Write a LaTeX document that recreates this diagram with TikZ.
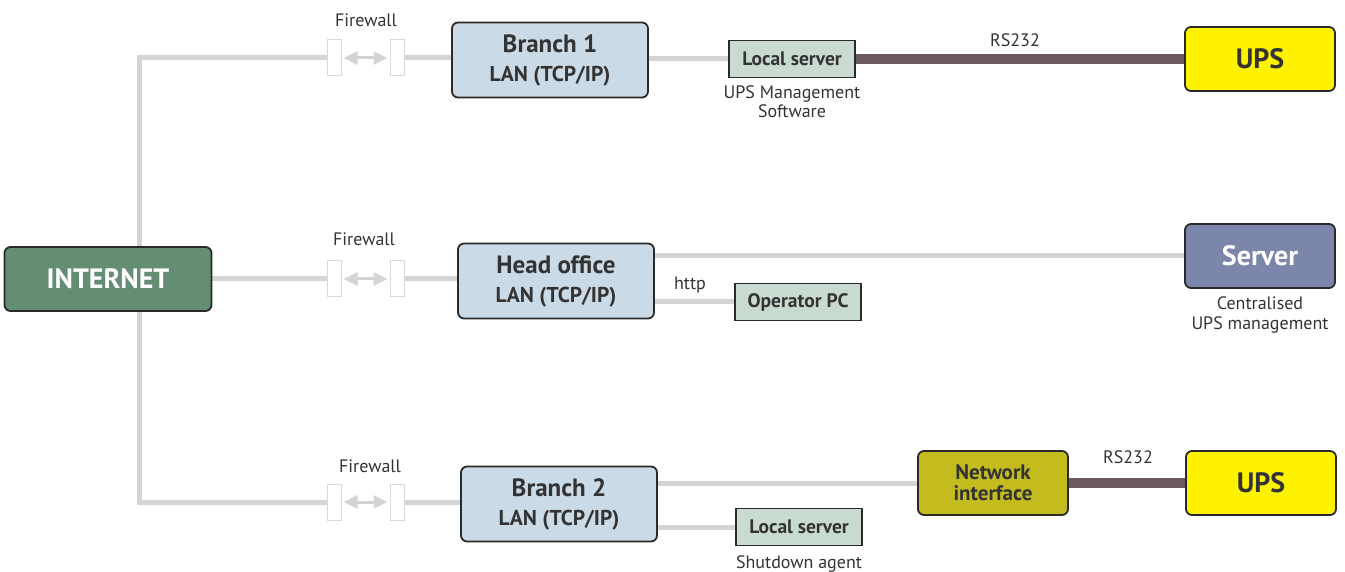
\documentclass[tikz,border=0pt]{standalone}
\usepackage{fontspec}
\setmainfont{PT Sans}
\usetikzlibrary{positioning,arrows.meta,backgrounds}

\definecolor{lanline}{HTML}{D4D4D4}
\definecolor{rsline}{HTML}{6B5B60}
\definecolor{boxline}{HTML}{2A2A2A}
\definecolor{inetfill}{HTML}{638E73}
\definecolor{branchfill}{HTML}{CADBE7}
\definecolor{srvfill}{HTML}{C9DBD0}
\definecolor{upsfill}{HTML}{FFF200}
\definecolor{serverfill}{HTML}{7C86AA}
\definecolor{netiffill}{HTML}{C4BB1E}
\definecolor{txtgray}{HTML}{333333}

\tikzset{
    box/.style={draw=boxline, line width=1.8pt, rounded corners=6pt, align=center,
        inner sep=0pt, text=txtgray},
    inet/.style={box, fill=inetfill, text=white, minimum width=207pt, minimum height=64pt,
        font=\fontsize{28}{30}\selectfont\bfseries},
    lan/.style={box, fill=branchfill, minimum width=196pt, minimum height=75pt,
        font=\fontsize{21.5}{29}\selectfont\bfseries},
    bigbox/.style={box, minimum width=150pt, minimum height=64pt,
        font=\fontsize{28}{30}\selectfont\bfseries},
    pcbox/.style={draw=boxline, line width=1.5pt, fill=srvfill, text=txtgray,
        minimum width=126pt, minimum height=37pt, inner sep=0pt,
        font=\fontsize{19.5}{21}\selectfont\bfseries},
    fwall/.style={draw=gray!30, fill=white, line width=1pt, minimum width=14pt,
        minimum height=36pt, inner sep=0pt},
    fwarrow/.style={draw=lanline, line width=3pt,
        {Triangle[length=14pt,width=13pt]}-{Triangle[length=14pt,width=13pt]}, shorten <=2pt, shorten >=2pt},
    wire/.style={draw=lanline, line width=5pt},
    rswire/.style={draw=rsline, line width=10pt},
    lbl/.style={text=txtgray, inner sep=0pt, align=center, font=\fontsize{18}{19.5}\selectfont}
}

\begin{document}
\begin{tikzpicture}[x=1pt,y=-1pt]
    \useasboundingbox (0,0) rectangle (1345,572);
    % Internet and corners of the trunk
    \node[inet] (internet) at (108,279) {INTERNET};
    \coordinate (ctop) at (139,58);
    \coordinate (cbot) at (139,502);
    % Firewalls
    \node[fwall] (fw1l) at (334,58) {};
    \node[fwall] (fw1r) at (397,58) {};
    \node[fwall] (fw2l) at (334,279) {};
    \node[fwall] (fw2r) at (397,279) {};
    \node[fwall] (fw3l) at (334,502) {};
    \node[fwall] (fw3r) at (397,502) {};
    \node[lbl] (fw1lbl) at (366,20) {Firewall};
    \node[lbl] (fw2lbl) at (364,239) {Firewall};
    \node[lbl] (fw3lbl) at (370,466) {Firewall};
    % Branch 1
    \node[lan] (branch1) at (550,60) {{\fontsize{25}{29}\selectfont Branch 1}\\LAN (TCP/IP)};
    \node[pcbox] (srv1) at (792,59) {Local server};
    \node[lbl, below=7pt of srv1] (srv1lbl) {UPS Management\\Software};
    \node[bigbox, fill=upsfill] (ups1) at (1260,59) {UPS};
    \node[lbl] (rs1lbl) at (1015,40) {RS232};
    % Head office
    \node[lan] (head) at (556,281) {{\fontsize{25}{29}\selectfont Head office}\\LAN (TCP/IP)};
    \node[bigbox, fill=serverfill, text=white] (server) at (1260,256) {Server};
    \node[lbl, below=8pt of server] (serverlbl) {Centralised\\UPS management};
    \node[pcbox] (oppc) at (798,302) {Operator PC};
    \node[lbl] (httplbl) at (690,285) {http};
    % Branch 2
    \node[lan] (branch2) at (559,504) {{\fontsize{25}{29}\selectfont Branch 2}\\LAN (TCP/IP)};
    \node[bigbox, fill=netiffill, font=\fontsize{21}{21}\selectfont\bfseries] (netif) at (993,483) {Network\\interface};
    \node[bigbox, fill=upsfill] (ups2) at (1261,483) {UPS};
    \node[lbl] (rs2lbl) at (1128,457) {RS232};
    \node[pcbox] (srv2) at (799,527) {Local server};
    \node[lbl, below=9pt of srv2] (srv2lbl) {Shutdown agent};
    % Connections
    \begin{scope}[on background layer]
        \draw[wire] (fw1l.west) -- (ctop) -- (cbot) -- (fw3l.west);
        \draw[wire] (internet) -- (fw2l);
        \draw[wire] (fw1r) -- (fw1r -| branch1);
        \draw[wire] (fw2r) -- (fw2r -| head);
        \draw[wire] (fw3r) -- (fw3r -| branch2);
        \draw[wire] (srv1) -- (srv1 -| branch1);
        \draw[wire] (server) -- (server -| head);
        \draw[wire] (oppc) -- (oppc -| head);
        \draw[wire] (netif) -- (netif -| branch2);
        \draw[wire] (srv2) -- (srv2 -| branch2);
        \draw[rswire] (srv1) -- (ups1);
        \draw[rswire] (netif) -- (ups2);
    \end{scope}
    \draw[fwarrow] (fw1l.east) -- (fw1r.west);
    \draw[fwarrow] (fw2l.east) -- (fw2r.west);
    \draw[fwarrow] (fw3l.east) -- (fw3r.west);
\end{tikzpicture}
\end{document}
